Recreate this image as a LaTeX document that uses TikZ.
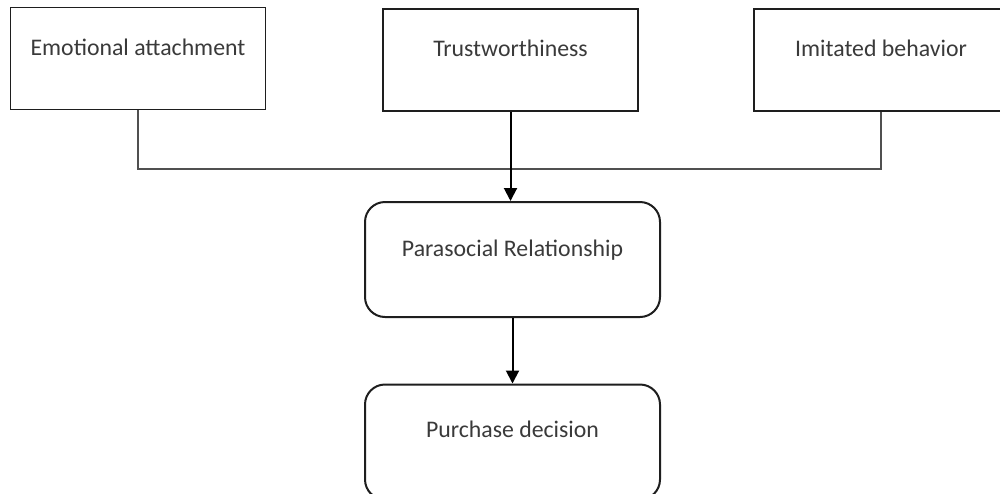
\documentclass[tikz,border=0pt]{standalone}
\usepackage{fontspec}
\setmainfont{Carlito}
\usetikzlibrary{arrows.meta}
\definecolor{inkline}{HTML}{1E1E1E}
\definecolor{inktext}{HTML}{3A3A3A}
\definecolor{linkgray}{HTML}{505050}
\tikzset{
  factor/.style={draw=inkline, line width=1pt, fill=white, text=inktext,
    font=\fontsize{11.9pt}{13pt}\selectfont,
    minimum width=127.5pt, minimum height=51pt, inner sep=0pt,
    text height=8pt, text depth=11pt},
  stage/.style={factor, rounded corners=10pt, minimum width=147.5pt, minimum height=57.5pt},
  joinline/.style={draw=linkgray, line width=0.6pt},
  flow/.style={draw=black, line width=1pt, -{Triangle[length=6.5pt,width=6.5pt]}}
}
\begin{document}
\begin{tikzpicture}[x=0.5pt,y=-0.5pt]
\useasboundingbox (0,0) rectangle (1000,493);
\clip (0,0) rectangle (1000,493);
\fill[white] (0,0) rectangle (1000,493);

% three influencing factors
\node[factor, line width=0.8pt] (emo) at (138,58.5) {Emotional attachment};
\node[factor] (trust) at (510.5,59.5) {Trustworthiness};
\node[factor] (imit) at (881,59.5) {Imitated behavior};

% outcome stages
\node[stage] (psr) at (512.5,259.5) {Parasocial Relationship};
\node[stage, text depth=13pt] (buy) at (512.5,442) {Purchase decision};

% bracket joining the side factors
\coordinate (jl) at (emo.south |- 0,169);
\coordinate (jr) at (imit.south |- 0,169);
\draw[joinline] (emo.south) -- (jl) -- (jr) -- (imit.south);

% arrows down the chain
\draw[flow] (trust.south) -- (trust.south |- psr.north);
\draw[flow] (psr.south) -- (buy.north);
\end{tikzpicture}
\end{document}
